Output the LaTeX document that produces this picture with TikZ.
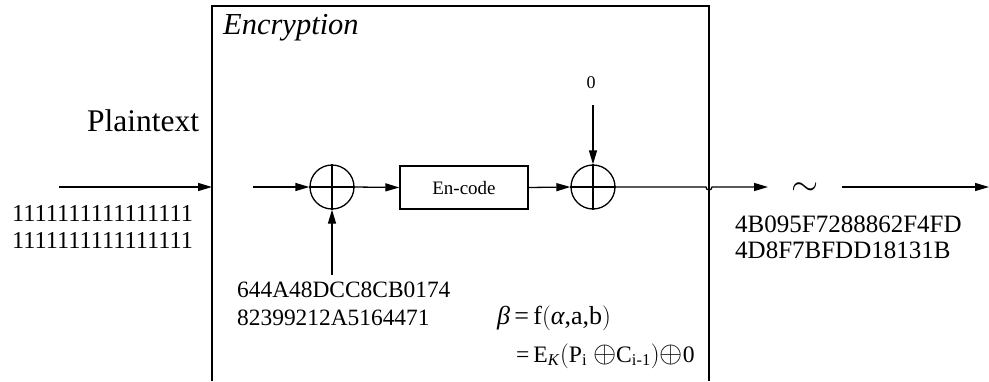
\documentclass[tikz,border=0pt]{standalone}
\usepackage{fontspec}
\setmainfont{Liberation Serif}
\usetikzlibrary{arrows.meta}
\begin{document}
\begin{tikzpicture}[x=1pt,y=-1pt,
  ln/.style={line width=1.3pt},
  arr/.style={ln,-{Triangle[length=14pt,width=8pt]}},
  xorc/.style={circle,draw,line width=1.3pt,minimum size=44pt,inner sep=0pt},
  txt/.style={inner sep=0pt,font=\fontsize{#1}{#1}\selectfont},
  blk/.style={draw,line width=1.3pt,minimum width=128pt,minimum height=43pt,inner sep=0pt,font=\fontsize{19}{19}\selectfont}]
\useasboundingbox (0,0) rectangle (989,381);
% encryption frame
\draw[line width=1.1pt] (212,381) -- (212,6) -- (709,6) -- (709,381);
\node[txt=30.5,anchor=west] (enc) at (223,28) {\itshape Encryption};
% plaintext
\node[txt=31.5] (pt) at (143,121) {Plaintext};
\node[txt=24.3,anchor=west,align=left] (bin) at (12,226.5) {1111111111111111\\[2.7pt]1111111111111111};
\coordinate (pin) at (59,187);
\coordinate (boxL) at (212,187);
\draw[arr] (pin) -- (boxL);
% first xor
\node[xorc] (x1) at (332,187) {};
\draw[ln] (x1.north) -- (x1.south) (x1.west) -- (x1.east);
\coordinate (ain) at (253,187);
\draw[arr] (ain) -- (x1.west);
\coordinate (kin) at (332,275);
\draw[arr] (kin) -- (x1.south);
\node[txt=23.4,anchor=west,align=left] (key) at (237,304) {644A48DCC8CB0174\\[4.6pt]82399212A5164471};
% encode
\node[blk] (en) at (464,187.5) {En-code};
\draw[arr] (x1.east) -- (en.west);
% second xor
\node[xorc] (x2) at (593,187) {};
\draw[ln] (x2.north) -- (x2.south) (x2.west) -- (x2.east);
\draw[arr] (en.east) -- (x2.west);
\node[txt=18] (zero) at (591,83) {0};
\coordinate (zin) at (593,105);
\draw[arr] (zin) -- (x2.north);
% output
\coordinate (oarr) at (768,187);
\draw[arr] (x2.east) -- (706,187) arc[start angle=180,end angle=0,radius=3] -- (oarr);
\node[txt=24] (tl) at (805.5,189) {\scalebox{1.4}{$\sim$}};
\coordinate (ostart) at (842,187);
\coordinate (oend) at (989,187);
\draw[arr] (ostart) -- (oend);
\node[txt=25,anchor=west,align=left] (out) at (735,237.5) {4B095F7288862F4FD\\[1pt]4D8F7BFDD18131B};
% formula
\node[txt=26,anchor=west] (f1) at (497,318) {\textit{β}\,=\,f$\bigl($\textit{α},a,b$\bigr)$};
\node[txt=23.6,anchor=west] (f2) at (516,356) {=\,E\textsubscript{\textit{K}}$\bigl($P\textsubscript{i} \scalebox{1.2}{$\oplus$}C\textsubscript{i-1}$\bigr)$\scalebox{1.2}{$\oplus$}0};
\end{tikzpicture}
\end{document}
